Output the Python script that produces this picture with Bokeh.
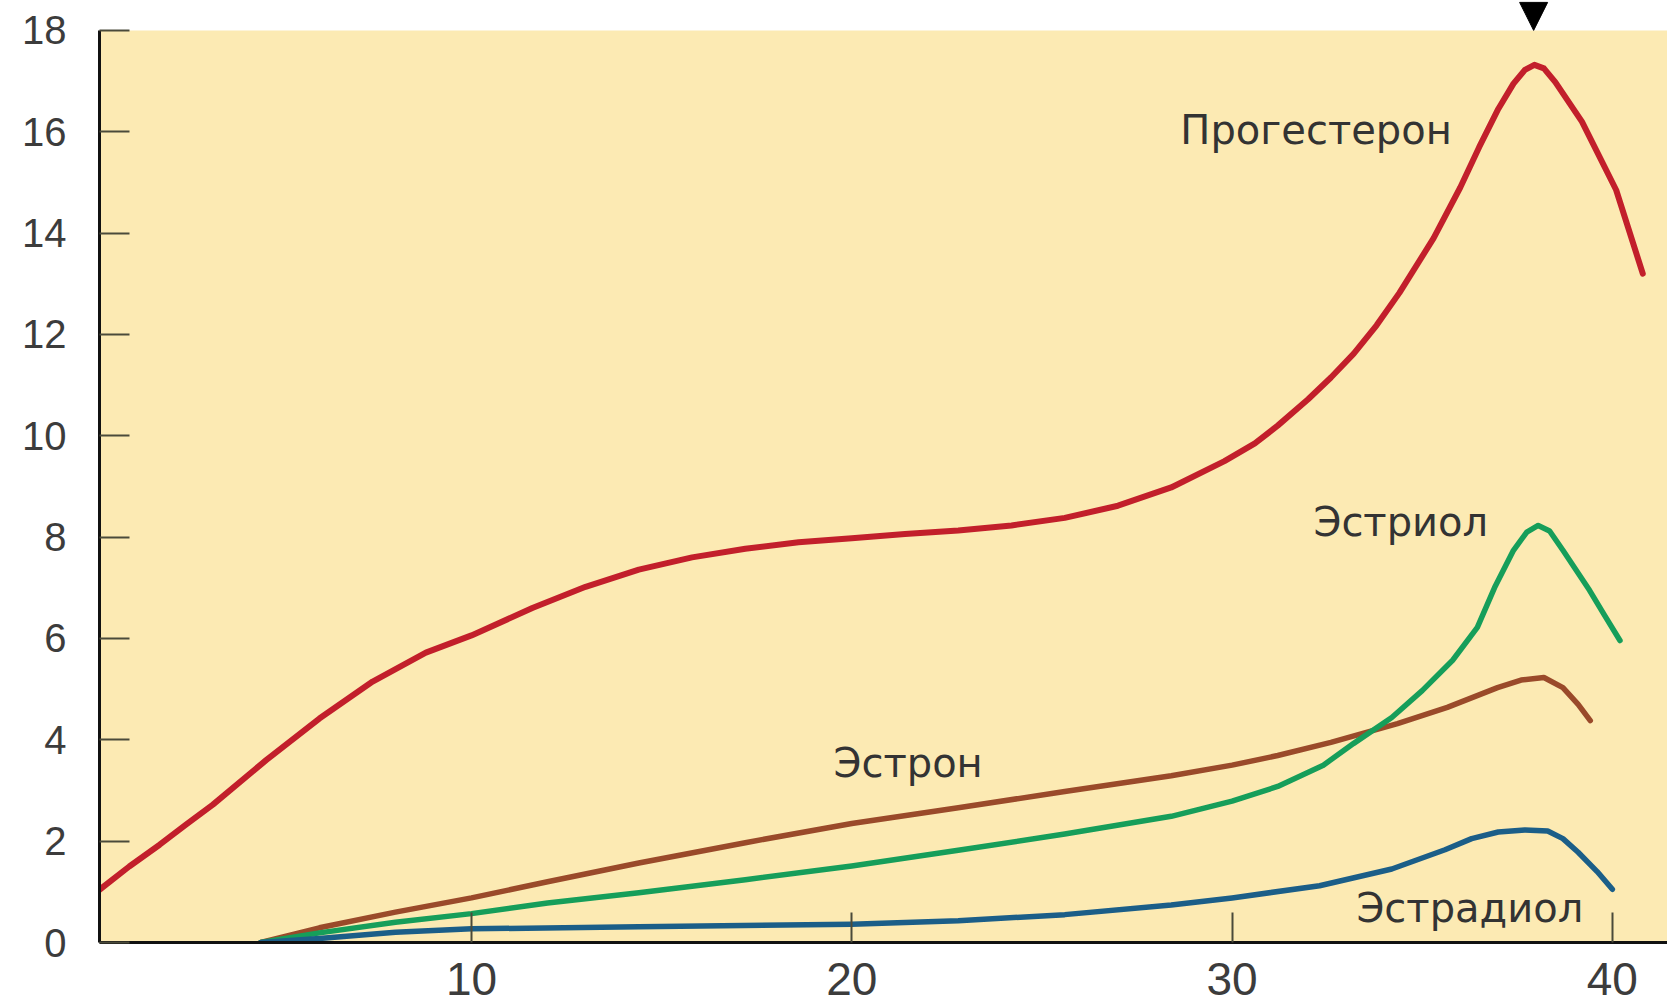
from bokeh.plotting import figure
from bokeh.models import Range1d, BoxAnnotation, FixedTicker, ColumnDataSource, Arrow, NormalHead
from bokeh.core.properties import value
from bokeh.embed import file_html
from bokeh.resources import INLINE

# ---- data (weeks of pregnancy vs. hormone level) ----
prog_x = [0.2, 1.0, 1.8, 2.5, 3.2, 4.6, 6.0, 7.4, 8.8, 10.0, 11.6, 13.0, 14.4, 15.8, 17.2, 18.6,
          20.0, 21.4, 22.8, 24.2, 25.6, 27.0, 28.4, 29.8, 30.6, 31.2, 32.0, 32.6, 33.2, 33.8, 34.4,
          35.3, 36.0, 36.5, 37.0, 37.4, 37.7, 37.95, 38.2, 38.5, 39.2, 40.1, 40.8]
prog_y = [1.03, 1.5, 1.93, 2.33, 2.72, 3.6, 4.42, 5.15, 5.72, 6.06, 6.6, 7.02, 7.36, 7.6, 7.77, 7.9,
          7.98, 8.06, 8.13, 8.23, 8.38, 8.62, 8.98, 9.5, 9.85, 10.2, 10.72, 11.15, 11.62, 12.18, 12.82,
          13.9, 14.9, 15.7, 16.45, 16.95, 17.22, 17.32, 17.25, 16.98, 16.2, 14.85, 13.2]

estron_x = [4.46, 6.0, 8.0, 10.0, 12.0, 14.4, 17.2, 20.0, 22.8, 25.6, 28.4, 30.0, 31.2, 32.6,
            34.35, 35.66, 36.98, 37.6, 38.2, 38.7, 39.1, 39.42]
estron_y = [0.0, 0.29, 0.6, 0.88, 1.2, 1.57, 1.97, 2.35, 2.66, 2.98, 3.29, 3.5, 3.69, 3.95,
            4.32, 4.64, 5.03, 5.18, 5.23, 5.03, 4.7, 4.38]

estriol_x = [4.46, 6.0, 8.0, 10.0, 12.0, 14.4, 17.2, 20.0, 22.8, 25.6, 28.4, 30.0, 31.2, 32.4,
             33.2, 34.2, 35.0, 35.8, 36.45, 36.9, 37.4, 37.75, 38.05, 38.35, 38.7, 39.4, 39.8, 40.2]
estriol_y = [0.0, 0.19, 0.4, 0.57, 0.78, 0.98, 1.24, 1.51, 1.82, 2.14, 2.49, 2.79, 3.08, 3.5,
             3.93, 4.44, 4.97, 5.57, 6.22, 7.0, 7.74, 8.1, 8.23, 8.12, 7.74, 6.95, 6.45, 5.96]

estradiol_x = [4.46, 6.0, 8.0, 10.0, 14.4, 20.0, 22.8, 25.6, 28.4, 30.0, 32.3, 34.2, 35.6, 36.3,
               37.0, 37.7, 38.3, 38.7, 39.1, 39.6, 40.0]
estradiol_y = [0.0, 0.08, 0.2, 0.27, 0.31, 0.36, 0.43, 0.55, 0.74, 0.88, 1.12, 1.45, 1.83, 2.05,
               2.18, 2.22, 2.2, 2.05, 1.78, 1.4, 1.05]

label_names = ["Прогестерон", "Эстриол", "Эстрон", "Эстрадиол"]
label_x = [28.64, 32.14, 19.52, 33.27]
label_y = [16.03, 8.29, 3.55, 0.69]

x_ticks = [10, 20, 30, 40]
y_ticks = [0, 2, 4, 6, 8, 10, 12, 14, 16, 18]
arrow_day = 37.93
arrow_tip = 18.0

# ---- figure ----
p = figure(width=1667, height=1004, output_backend="svg", toolbar_location=None,
           x_range=Range1d(0.218, 41.45), y_range=Range1d(0, 18.59),
           min_border_left=99, min_border_right=0, min_border_top=0, min_border_bottom=62)
p.background_fill_color = "white"
p.border_fill_color = "white"
p.outline_line_color = None
p.grid.visible = False

p.add_layout(BoxAnnotation(bottom=0, top=18, fill_color="#FCEAB3", fill_alpha=1.0,
                           line_color=None, level="underlay"))

font = "Liberation Sans"
for ax in (p.xaxis[0], p.yaxis[0]):
    ax.axis_line_color = "#111111"
    ax.axis_line_width = 3
    ax.major_tick_line_color = "#4a4a3a"
    ax.major_tick_line_width = 2
    ax.major_tick_in = 30
    ax.major_tick_out = 0
    ax.minor_tick_line_color = None
    ax.major_label_text_color = "#3c3c3c"
    ax.major_label_text_font = font

p.xaxis.ticker = FixedTicker(ticks=x_ticks)
p.yaxis.ticker = FixedTicker(ticks=y_ticks)
p.yaxis.bounds = (0, 18)
p.xaxis.major_label_text_font_size = "46px"
p.yaxis.major_label_text_font_size = "40px"
p.xaxis.major_label_standoff = 20
p.yaxis.major_label_standoff = 33

p.line(prog_x, prog_y, line_color="#C21F2B", line_width=6, line_join="round", line_cap="round")
p.line(estron_x, estron_y, line_color="#9A4A2A", line_width=5.5, line_join="round", line_cap="round")
p.line(estriol_x, estriol_y, line_color="#169E5A", line_width=5.5, line_join="round", line_cap="round")
p.line(estradiol_x, estradiol_y, line_color="#1B5E88", line_width=5.5, line_join="round", line_cap="round")

src = ColumnDataSource(dict(x=label_x, y=label_y, t=label_names))
p.text(x="x", y="y", text="t", source=src, text_font=value("DejaVu Sans"), text_font_size="40px",
       text_color="#333333", text_baseline="middle", text_align="left")

p.add_layout(Arrow(end=NormalHead(size=28, fill_color="black", line_color="black"),
                   x_start=arrow_day, y_start=18.59, x_end=arrow_day, y_end=arrow_tip,
                   line_alpha=0))

open("out.html", "w").write(file_html(p, INLINE))
